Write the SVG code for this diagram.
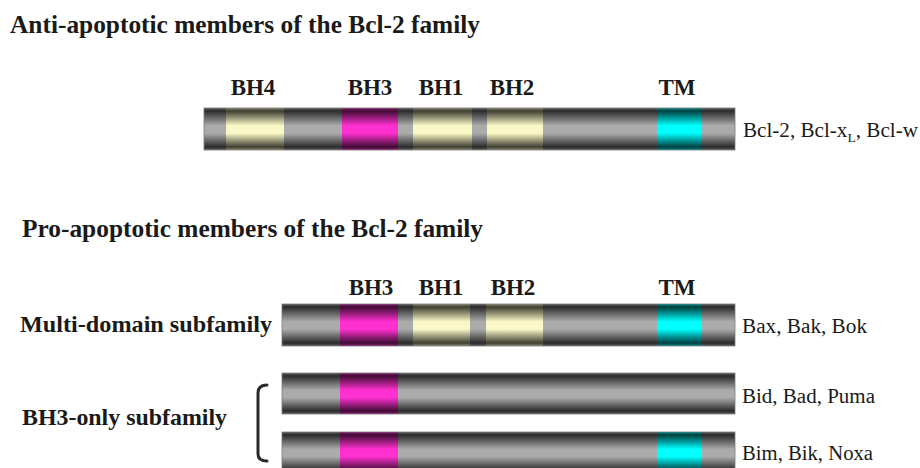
<svg xmlns="http://www.w3.org/2000/svg" width="920" height="468" viewBox="0 0 920 468">
  <defs>
    <linearGradient id="shade" x1="0" y1="0" x2="0" y2="1">
      <stop offset="0" stop-color="#000" stop-opacity="0.45"/>
      <stop offset="0.07" stop-color="#000" stop-opacity="0.75"/>
      <stop offset="0.42" stop-color="#000" stop-opacity="0"/>
      <stop offset="0.6" stop-color="#000" stop-opacity="0"/>
      <stop offset="0.93" stop-color="#000" stop-opacity="0.75"/>
      <stop offset="1" stop-color="#000" stop-opacity="0.45"/>
    </linearGradient>
  </defs>
  <style>
    .title { font-family: "Liberation Serif", "Times New Roman", serif; font-weight: bold; font-size: 26px; fill: #1a1a1a; }
    .dom { font-family: "Liberation Serif", "Times New Roman", serif; font-weight: bold; font-size: 23px; fill: #1a1a1a; text-anchor: middle; }
    .side { font-family: "Liberation Serif", "Times New Roman", serif; font-size: 20px; fill: #1a1a1a; }
    .sub { font-family: "Liberation Serif", "Times New Roman", serif; font-weight: bold; font-size: 24px; fill: #1a1a1a; }
    .base { fill: #ababab; }
    .bh3 { fill: #ff30d0; }
    .bhy { fill: #faf8c6; }
    .tm { fill: #00ffff; }
    .ov { fill: url(#shade); stroke: #7a7a7a; stroke-width: 0.8; }
  </style>
  <rect width="920" height="468" fill="#ffffff"/>

  <text class="title" x="10" y="33" textLength="470" lengthAdjust="spacingAndGlyphs">Anti-apoptotic members of the Bcl-2 family</text>
  <text class="title" x="22" y="237" textLength="461" lengthAdjust="spacingAndGlyphs">Pro-apoptotic members of the Bcl-2 family</text>

  <g id="anti-bar">
    <text class="dom" x="253" y="95">BH4</text>
    <text class="dom" x="370" y="95">BH3</text>
    <text class="dom" x="441" y="95">BH1</text>
    <text class="dom" x="512" y="95">BH2</text>
    <text class="dom" x="677" y="95">TM</text>
    <rect class="base" x="204" y="108" width="531" height="42"/>
    <rect class="bhy" x="226" y="108" width="58" height="42"/>
    <rect class="bh3" x="342" y="108" width="56" height="42"/>
    <rect class="bhy" x="413" y="108" width="59" height="42"/>
    <rect class="bhy" x="487" y="108" width="56" height="42"/>
    <rect class="tm" x="657" y="108" width="45" height="42"/>
    <rect class="ov" x="204" y="108" width="531" height="42"/>
    <text class="side" x="743" y="137" textLength="175" lengthAdjust="spacingAndGlyphs">Bcl-2, Bcl-x<tspan font-size="13" dy="5">L</tspan><tspan dy="-5">, Bcl-w</tspan></text>
  </g>

  <g id="multi-domain">
    <text class="sub" x="20" y="332" textLength="252" lengthAdjust="spacingAndGlyphs">Multi-domain subfamily</text>
    <text class="dom" x="371" y="295">BH3</text>
    <text class="dom" x="441" y="295">BH1</text>
    <text class="dom" x="513" y="295">BH2</text>
    <text class="dom" x="677" y="295">TM</text>
    <rect class="base" x="282" y="304" width="453" height="42"/>
    <rect class="bh3" x="340" y="304" width="58" height="42"/>
    <rect class="bhy" x="413" y="304" width="57" height="42"/>
    <rect class="bhy" x="486" y="304" width="57" height="42"/>
    <rect class="tm" x="657" y="304" width="45" height="42"/>
    <rect class="ov" x="282" y="304" width="453" height="42"/>
    <text class="side" x="742" y="333" textLength="125" lengthAdjust="spacingAndGlyphs">Bax, Bak, Bok</text>
  </g>

  <g id="bh3-only-label">
    <text class="sub" x="22" y="425" textLength="205" lengthAdjust="spacingAndGlyphs">BH3-only subfamily</text>
  </g>

  <g id="bh3-only-1">
    <rect class="base" x="282" y="373" width="453" height="41"/>
    <rect class="bh3" x="340" y="373" width="58" height="41"/>
    <rect class="ov" x="282" y="373" width="453" height="41"/>
    <text class="side" x="742" y="403" textLength="133" lengthAdjust="spacingAndGlyphs">Bid, Bad, Puma</text>
  </g>

  <g id="bh3-only-2">
    <rect class="base" x="282" y="432" width="453" height="41"/>
    <rect class="bh3" x="340" y="432" width="58" height="41"/>
    <rect class="tm" x="657" y="432" width="45" height="41"/>
    <rect class="ov" x="282" y="432" width="453" height="41"/>
    <text class="side" x="742" y="460" textLength="131" lengthAdjust="spacingAndGlyphs">Bim, Bik, Noxa</text>
  </g>

  <g id="connectors">
    <path d="M267,385 Q258,385 258,393 L258,454 Q258,461 267,461" fill="none" stroke="#2a2a2a" stroke-width="3" stroke-linecap="round"/>
  </g>
</svg>
